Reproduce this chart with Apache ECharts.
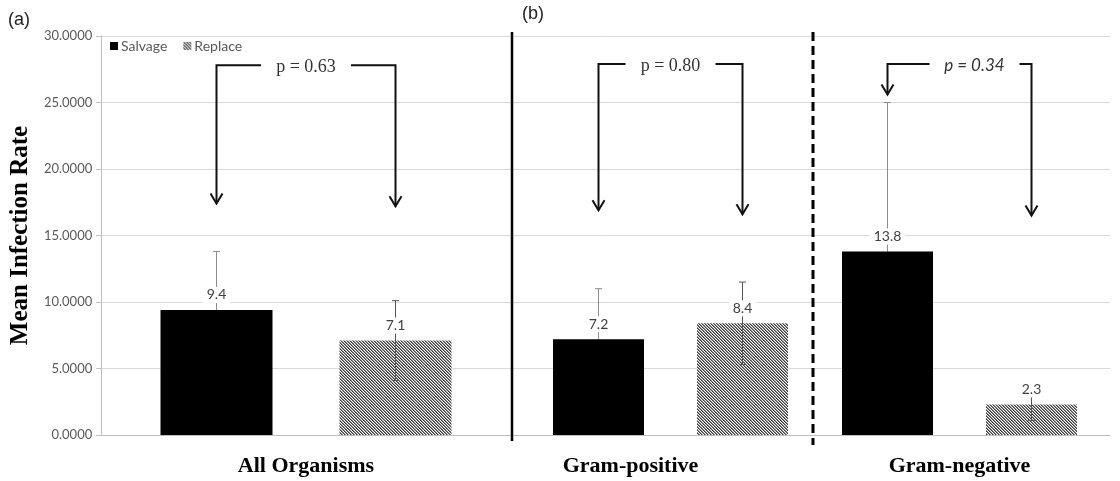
<!DOCTYPE html>
<html><head><meta charset="utf-8">
<script src="https://cdn.jsdelivr.net/npm/echarts@6.0.0/dist/echarts.min.js"></script>
<style>html,body{margin:0;padding:0;background:#fff}#c{width:1120px;height:481px}</style>
</head><body><div id="c"></div>
<script>
// ---- data ----
const categories = ['All Organisms', 'Gram-positive', 'Gram-negative'];
const seriesNames = ['Salvage', 'Replace'];
const salvage = [9.4, 7.2, 13.8];
const replace = [7.1, 8.4, 2.3];
const salvageErr = [4.4, 3.8, 11.2];
const replaceErr = [3.0, 3.1, 1.2];
const pLabels = ['p = 0.63', 'p = 0.80', 'p = 0.34'];
const arrowTop = [27.8, 27.9, 27.9];
const arrowTipSalvage = [17.4, 16.9, 25.6];
const arrowTipReplace = [17.2, 16.6, 16.5];
const yTicks = [0, 5, 10, 15, 20, 25, 30];

// ---- styles / layout ----
const panels = [
  { cats: [0], bw: 112, gap: 67, left: 95, right: 603, textShift: [0] },
  { cats: [1, 2], bw: 91, gap: 53, left: 526, right: 16, textShift: [0, 15] }
];
const TOP = 36, BOTTOM = 46;

function hatch() {
  const cv = document.createElement('canvas');
  cv.width = 3; cv.height = 3;
  const ctx = cv.getContext('2d');
  ctx.fillStyle = '#ffffff'; ctx.fillRect(0, 0, 3, 3);
  for (let i = 0; i < 3; i++) {
    ctx.fillStyle = '#3c3c3c'; ctx.fillRect(i, i, 1, 1);
    ctx.fillStyle = '#8a8a8a'; ctx.fillRect((i + 1) % 3, i, 1, 1);
  }
  return cv;
}
const hatchFill = { image: hatch(), repeat: 'repeat' };

function errRender(off, color) {
  return function (params, api) {
    const k = api.value(0), v = api.value(1), e = api.value(2);
    const t = api.coord([k, v + e]);
    const b = api.coord([k, v - e]);
    const x = t[0] + off, cap = 3.5;
    const st = { stroke: color, lineWidth: 1 };
    return { type: 'group', children: [
      { type: 'line', shape: { x1: x, y1: t[1], x2: x, y2: b[1] }, style: st },
      { type: 'line', shape: { x1: x - cap, y1: t[1], x2: x + cap, y2: t[1] }, style: st },
      { type: 'line', shape: { x1: x - cap, y1: b[1], x2: x + cap, y2: b[1] }, style: st }
    ]};
  };
}
function labelRender(off) {
  return function (params, api) {
    const k = api.value(0), v = api.value(1), side = api.value(2);
    const p = api.coord([k, v]);
    return { type: 'text', style: {
      text: v.toFixed(1), x: p[0] + side * off, y: p[1] - 15,
      align: 'center', verticalAlign: 'middle', fill: '#404040',
      font: '14px Lato', backgroundColor: '#fff', padding: [1, 4]
    }};
  };
}
function arrowRender(off, shifts) {
  return function (params, api) {
    const k = api.value(0), idx = api.value(4);
    const top = api.coord([k, api.value(1)]);
    const tS = api.coord([k, api.value(2)]);
    const tR = api.coord([k, api.value(3)]);
    const xl = top[0] - off, xr = top[0] + off, y = top[1];
    const cx = top[0] + shifts[k];
    const st = { stroke: '#111', lineWidth: 2, fill: null, lineJoin: 'miter' };
    const head = (x, ty) => ({ type: 'polyline', shape: { points: [[x - 6, ty - 10], [x, ty], [x + 6, ty - 10]] }, style: st });
    return { type: 'group', children: [
      { type: 'polyline', shape: { points: [[cx - 45, y], [xl, y], [xl, tS[1]]] }, style: st },
      head(xl, tS[1]),
      { type: 'polyline', shape: { points: [[cx + 45, y], [xr, y], [xr, tR[1]]] }, style: st },
      head(xr, tR[1]),
      { type: 'text', style: { text: pLabels[idx], x: cx, y: y + 2, align: 'center', verticalAlign: 'middle',
        fill: '#333', font: idx < 2 ? '18px "Liberation Serif"' : 'italic 17px Lato' } }
    ]};
  };
}

const xFont = { fontFamily: 'Liberation Serif', fontWeight: 'bold', fontSize: 22, color: '#000' };
const grid = [{ left: 95, right: 10, top: TOP, bottom: BOTTOM }];
const xAxis = [{ gridIndex: 0, type: 'category', data: [''], axisLine: { lineStyle: { color: '#bfbfbf' } },
  axisTick: { show: false }, axisLabel: { show: false } }];
const yAxis = [{
  gridIndex: 0, type: 'value', min: yTicks[0], max: yTicks[yTicks.length - 1], interval: yTicks[1] - yTicks[0],
  axisLabel: { formatter: v => v.toFixed(4), color: '#595959', fontFamily: 'Lato', fontSize: 13, margin: 9 },
  axisLine: { show: true, lineStyle: { color: '#bfbfbf' } },
  axisTick: { show: true, length: 5, lineStyle: { color: '#bfbfbf' } },
  splitLine: { lineStyle: { color: '#d9d9d9', width: 1 } },
  name: 'Mean Infection Rate', nameLocation: 'middle', nameGap: 58,
  nameTextStyle: { fontFamily: 'Liberation Serif', fontWeight: 'bold', fontSize: 25, color: '#000' }
}];
const series = [];

panels.forEach((p, pi) => {
  const gi = pi + 1;
  grid.push({ left: p.left, right: p.right, top: TOP, bottom: BOTTOM });
  xAxis.push({
    gridIndex: gi, type: 'category', data: p.cats.map(i => categories[i]),
    axisLine: { show: false }, axisTick: { show: false },
    axisLabel: {
      margin: 20, ...xFont,
      formatter: v => v === 'Gram-positive' ? '{gp|' + v + '}' : (v === 'Gram-negative' ? '{gn|' + v + '}' : '{n|' + v + '}'),
      rich: { gp: { padding: [0, 80, 0, 0], ...xFont },
              gn: { padding: [0, 0, 8, 0], ...xFont },
              n: { ...xFont } }
    }
  });
  yAxis.push({ gridIndex: gi, type: 'value', min: yTicks[0], max: yTicks[yTicks.length - 1], show: false, splitLine: { show: false } });
  const off = (p.bw + p.gap) / 2;
  const common = { xAxisIndex: gi, yAxisIndex: gi };
  series.push({ ...common, type: 'bar', name: seriesNames[0], data: p.cats.map(i => salvage[i]),
    barWidth: p.bw, barGap: (p.gap / p.bw * 100) + '%', itemStyle: { color: '#000' }, z: 2 });
  series.push({ ...common, type: 'bar', name: seriesNames[1], data: p.cats.map(i => replace[i]),
    barWidth: p.bw, barGap: (p.gap / p.bw * 100) + '%', itemStyle: { color: hatchFill }, z: 2 });
  series.push({ ...common, type: 'custom', z: 1, silent: true,
    data: p.cats.map((i, k) => [k, salvage[i], salvageErr[i]]), renderItem: errRender(-off, '#8c8c8c') });
  series.push({ ...common, type: 'custom', z: 3, silent: true,
    data: p.cats.map((i, k) => [k, replace[i], replaceErr[i]]), renderItem: errRender(off, '#555') });
  series.push({ ...common, type: 'custom', z: 4, silent: true,
    data: p.cats.map((i, k) => [k, salvage[i], -1]).concat(p.cats.map((i, k) => [k, replace[i], 1])),
    renderItem: labelRender(off) });
  series.push({ ...common, type: 'custom', z: 5, silent: true,
    data: p.cats.map((i, k) => [k, arrowTop[i], arrowTipSalvage[i], arrowTipReplace[i], i]),
    renderItem: arrowRender(off, p.textShift) });
});

const chart = echarts.init(document.getElementById('c'), null, { renderer: 'canvas' });
chart.setOption({
  animation: false,
  backgroundColor: '#fff',
  legend: { data: seriesNames, left: 105, top: 34, itemWidth: 8, itemHeight: 8, itemGap: 16, icon: 'rect',
    textStyle: { color: '#595959', fontFamily: 'Lato', fontSize: 14, padding: [0, 0, 0, -2] } },
  grid, xAxis, yAxis, series,
  graphic: [
    { type: 'text', left: 8, top: 11, style: { text: '(a)', font: '18px "Liberation Sans"', fill: '#222' } },
    { type: 'text', left: 522, top: 5, style: { text: '(b)', font: '18px "Liberation Sans"', fill: '#222' } },
    { type: 'line', shape: { x1: 512, y1: 32, x2: 512, y2: 441 }, style: { stroke: '#000', lineWidth: 2.5 }, z: 10 },
    { type: 'line', shape: { x1: 813, y1: 32, x2: 813, y2: 445 }, style: { stroke: '#000', lineWidth: 3, lineDash: [9, 5] }, z: 10 }
  ]
});
</script></body></html>
